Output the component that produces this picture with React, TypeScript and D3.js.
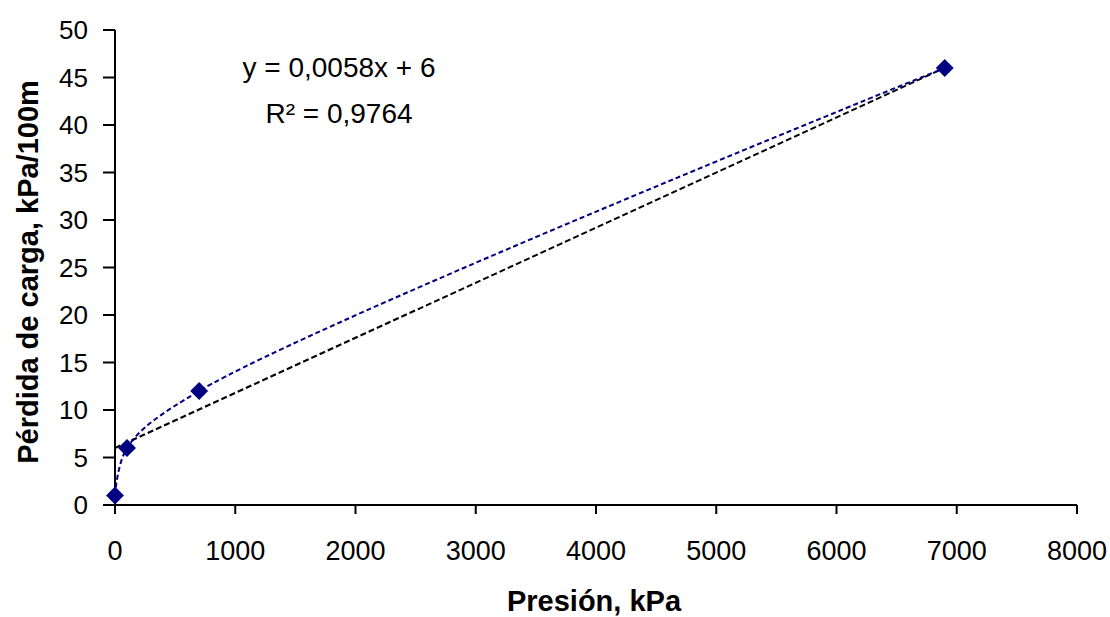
import React from 'react';
import * as d3 from 'd3';

// Datos
const presion = [0, 100, 700, 6900];
const perdida = [1, 6, 12, 46];
const xTicks = [0, 1000, 2000, 3000, 4000, 5000, 6000, 7000, 8000];
const yTicks = [0, 5, 10, 15, 20, 25, 30, 35, 40, 45, 50];
const trendSlope = 0.0058;
const trendIntercept = 6;
const trendRange = [0, 6900];
const ecuacion = ['y = 0,0058x + 6', 'R² = 0,9764'];

const W = 1110;
const H = 617;
const FONT = '"Liberation Sans", Arial, sans-serif';
const NAVY = '#000080';

const App = () => {
  const x = d3.scaleLinear().domain([0, 8000]).range([115, 1077]);
  const y = d3.scaleLinear().domain([0, 50]).range([505, 30]);

  const points: [number, number][] = presion.map((p, i) => [p, perdida[i]]);

  const smooth = d3.line<[number, number]>()
    .x(d => x(d[0]))
    .y(d => y(d[1]))
    .curve(d3.curveCatmullRom.alpha(0.5));

  const trend = d3.line<number>()
    .x(d => x(d))
    .y(d => y(trendSlope * d + trendIntercept));

  const marker = d3.symbol().type(d3.symbolSquare).size(160)();

  return (
    <svg width={W} height={H} style={{ position: 'absolute', left: 0, top: 0, background: '#fff' }}>
      {/* ejes */}
      <line x1={115} x2={115} y1={y(50)} y2={y(0)} stroke="#000" strokeWidth={2} />
      <line x1={103} x2={x(8000)} y1={y(0)} y2={y(0)} stroke="#000" strokeWidth={2} />
      {yTicks.map(t => (
        <g key={'y' + t}>
          <line x1={103} x2={115} y1={y(t)} y2={y(t)} stroke="#000" strokeWidth={2} />
          <text x={88} y={y(t)} dy="0.36em" textAnchor="end" fontFamily={FONT} fontSize={26}>{t}</text>
        </g>
      ))}
      {xTicks.map(t => (
        <g key={'x' + t}>
          <line x1={x(t)} x2={x(t)} y1={y(0)} y2={y(0) + 9} stroke="#000" strokeWidth={2} />
          <text x={x(t)} y={560} textAnchor="middle" fontFamily={FONT} fontSize={27}>{t}</text>
        </g>
      ))}

      {/* línea de tendencia */}
      <path d={trend(trendRange) || ''} fill="none" stroke="#000" strokeWidth={2} strokeDasharray="6 3" />

      {/* serie suavizada */}
      <path d={smooth(points) || ''} fill="none" stroke={NAVY} strokeWidth={2} strokeDasharray="5 3" />
      {points.map((d, i) => (
        <path key={i} d={marker || ''} transform={`translate(${x(d[0])},${y(d[1])}) rotate(45)`} fill={NAVY} />
      ))}

      {/* ecuación */}
      {ecuacion.map((s, i) => (
        <text key={s} x={339} y={77 + i * 46} textAnchor="middle" fontFamily={FONT} fontSize={28}>{s}</text>
      ))}

      {/* títulos */}
      <text x={594} y={611} textAnchor="middle" fontFamily={FONT} fontSize={29} fontWeight="bold">Presión, kPa</text>
      <text transform="translate(38,272) rotate(-90)" textAnchor="middle" fontFamily={FONT} fontSize={29} fontWeight="bold">
        Pérdida de carga, kPa/100m
      </text>
    </svg>
  );
};

export default App;
